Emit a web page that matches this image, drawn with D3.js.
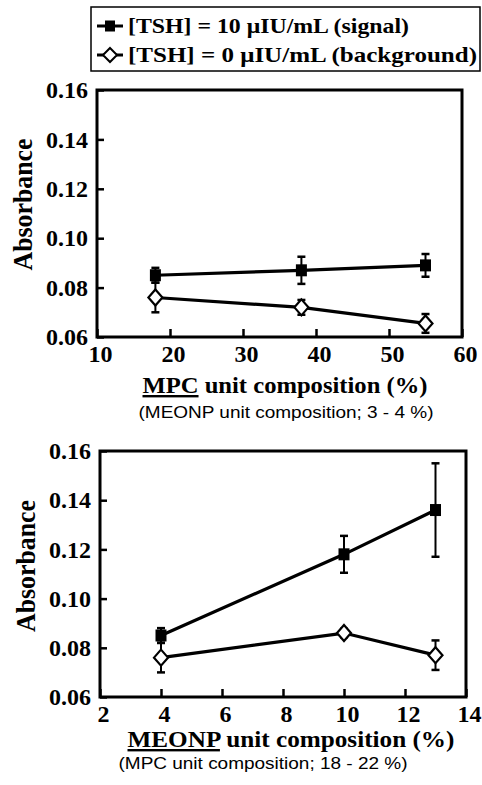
<!DOCTYPE html>
<html>
<head>
<meta charset="utf-8">
<script src="https://cdn.jsdelivr.net/npm/d3@7"></script>
<style>
  html, body { margin: 0; padding: 0; background: #fff; }
  svg { display: block; }
</style>
</head>
<body>
<div id="chart"></div>
<script>
// ---- data ----
const yTicks = [0.06, 0.08, 0.10, 0.12, 0.14, 0.16];

const mpcTicks = [10, 20, 30, 40, 50, 60];
const mpcX = [18, 38, 55];
const mpcSignal = [0.085, 0.087, 0.089];
const mpcSignalErr = [0.003, 0.0055, 0.0046];
const mpcBackground = [0.076, 0.072, 0.0655];
const mpcBackgroundErr = [0.006, 0.003, 0.0038];

const meonpTicks = [2, 4, 6, 8, 10, 12, 14];
const meonpX = [4, 10, 13];
const meonpSignal = [0.085, 0.118, 0.136];
const meonpSignalErr = [0.003, 0.0075, 0.019];
const meonpBackground = [0.076, 0.086, 0.077];
const meonpBackgroundErr = [0.006, 0.0017, 0.006];

const legendLabels = ['[TSH] = 10 \u03BCIU/mL (signal)', '[TSH] = 0 \u03BCIU/mL (background)'];

const SERIF = 'Liberation Serif';
const SANS = 'Liberation Sans';

const W = 482, H = 785;
const svg = d3.select('#chart').append('svg').attr('width', W).attr('height', H);

// ---- legend ----
const leg = svg.append('g');
leg.append('rect')
  .attr('x', 91).attr('y', 7).attr('width', 389).attr('height', 64)
  .attr('fill', 'none').attr('stroke', '#000').attr('stroke-width', 1.5);

legendLabels.forEach((lab, i) => {
  const cy = 26 + i * 29;
  leg.append('line')
    .attr('x1', 97).attr('x2', 123).attr('y1', cy).attr('y2', cy)
    .attr('stroke', '#000').attr('stroke-width', 3);
  if (i === 0) {
    leg.append('rect').attr('x', 105).attr('y', cy - 5.5).attr('width', 10).attr('height', 11).attr('fill', '#000');
  } else {
    leg.append('path')
      .attr('d', `M110,${cy - 7}L117,${cy}L110,${cy + 7}L103,${cy}Z`)
      .attr('fill', '#fff').attr('stroke', '#000').attr('stroke-width', 2);
  }
  leg.append('text')
    .attr('x', 128).attr('y', cy + 7)
    .attr('font-family', SERIF).attr('font-weight', 'bold').attr('font-size', 22)
    .attr('textLength', i === 0 ? 281 : 349).attr('lengthAdjust', 'spacingAndGlyphs')
    .text(lab);
});

// ---- panel drawing ----
function styleTicks(a) {
  a.attr('font-family', SERIF).attr('font-size', 24).attr('font-weight', 'bold');
  a.select('.domain').remove();
  a.selectAll('.tick line').attr('stroke', '#000').attr('stroke-width', 2.5);
  a.selectAll('.tick text').attr('fill', '#000');
}

function drawPanel(p) {
  const g = svg.append('g');
  const x = d3.scaleLinear().domain(d3.extent(p.ticks)).range([p.left, p.right]);
  const y = d3.scaleLinear().domain([0.06, 0.16]).range([p.bottom, p.top]);

  // axes with inward ticks
  g.append('g')
    .attr('transform', `translate(0,${p.bottom})`)
    .call(d3.axisBottom(x).tickValues(p.ticks).tickSizeInner(-8).tickSizeOuter(0).tickFormat(d3.format('d')))
    .call(styleTicks)
    .call(a => a.selectAll('.tick text').attr('y', 25).attr('dy', null).attr('dx', 3));

  g.append('g')
    .attr('transform', `translate(${p.left},0)`)
    .call(d3.axisLeft(y).tickValues(yTicks).tickSizeInner(-7).tickSizeOuter(0).tickPadding(9).tickFormat(d3.format('.2f')))
    .call(styleTicks);

  // frame
  g.append('rect')
    .attr('x', p.left).attr('y', p.top)
    .attr('width', p.right - p.left).attr('height', p.bottom - p.top)
    .attr('fill', 'none').attr('stroke', '#000').attr('stroke-width', 3);

  const series = [
    { vals: p.signal, err: p.signalErr, filled: true },
    { vals: p.background, err: p.backgroundErr, filled: false }
  ];

  const line = d3.line().x(d => x(d[0])).y(d => y(d[1]));

  series.forEach(s => {
    const pts = p.xs.map((xv, i) => [xv, s.vals[i], s.err[i]]);

    // error bars
    const eb = g.append('g').attr('stroke', '#000').attr('stroke-width', 2);
    pts.forEach(d => {
      const cx = x(d[0]);
      eb.append('line').attr('x1', cx).attr('x2', cx).attr('y1', y(d[1] - d[2])).attr('y2', y(d[1] + d[2]));
      eb.append('line').attr('x1', cx - 4).attr('x2', cx + 4).attr('y1', y(d[1] - d[2])).attr('y2', y(d[1] - d[2])).attr('stroke-width', 2.5);
      eb.append('line').attr('x1', cx - 4).attr('x2', cx + 4).attr('y1', y(d[1] + d[2])).attr('y2', y(d[1] + d[2])).attr('stroke-width', 2.5);
    });

    g.append('path').datum(pts)
      .attr('fill', 'none').attr('stroke', '#000').attr('stroke-width', 3.2)
      .attr('d', line);

    if (s.filled) {
      g.selectAll(null).data(pts).join('rect')
        .attr('x', d => x(d[0]) - 5.5).attr('y', d => y(d[1]) - 6)
        .attr('width', 11).attr('height', 12).attr('fill', '#000');
    } else {
      g.selectAll(null).data(pts).join('path')
        .attr('d', d => {
          const cx = x(d[0]), cy = y(d[1]);
          return `M${cx},${cy - 8}L${cx + 7},${cy}L${cx},${cy + 8}L${cx - 7},${cy}Z`;
        })
        .attr('fill', '#fff').attr('stroke', '#000').attr('stroke-width', 2.2);
    }
  });

  // y title
  g.append('text')
    .attr('transform', `translate(${p.yTitleX},${(p.top + p.bottom) / 2 + p.yTitleDy}) rotate(-90)`)
    .attr('text-anchor', 'middle')
    .attr('font-family', SERIF).attr('font-weight', 'bold').attr('font-size', 28)
    .attr('textLength', 132).attr('lengthAdjust', 'spacingAndGlyphs')
    .text('Absorbance');

  // x title with underlined monomer name
  const xt = g.append('text')
    .attr('x', p.xTitleX).attr('y', p.xTitleY)
    .attr('text-anchor', 'middle')
    .attr('font-family', SERIF).attr('font-weight', 'bold').attr('font-size', 24)
    .attr('textLength', p.xTitleLen).attr('lengthAdjust', 'spacingAndGlyphs');
  xt.append('tspan').attr('text-decoration', 'underline').text(p.name);
  xt.append('tspan').text(' unit composition (%)');

  g.append('text')
    .attr('x', p.subX).attr('y', p.subY)
    .attr('text-anchor', 'middle')
    .attr('font-family', SANS).attr('font-size', 16)
    .attr('textLength', p.subLen).attr('lengthAdjust', 'spacingAndGlyphs')
    .text(p.sub);
}

drawPanel({
  ticks: mpcTicks, xs: mpcX,
  signal: mpcSignal, signalErr: mpcSignalErr,
  background: mpcBackground, backgroundErr: mpcBackgroundErr,
  left: 97, right: 462, top: 90, bottom: 337,
  yTitleX: 32, yTitleDy: -9,
  name: 'MPC', xTitleX: 285, xTitleY: 393, xTitleLen: 285,
  sub: '(MEONP unit composition; 3 - 4 %)', subX: 286, subY: 418, subLen: 295
});

drawPanel({
  ticks: meonpTicks, xs: meonpX,
  signal: meonpSignal, signalErr: meonpSignalErr,
  background: meonpBackground, backgroundErr: meonpBackgroundErr,
  left: 100, right: 466, top: 451, bottom: 697,
  yTitleX: 35, yTitleDy: -8,
  name: 'MEONP', xTitleX: 291, xTitleY: 747, xTitleLen: 327,
  sub: '(MPC unit composition; 18 - 22 %)', subX: 263, subY: 769, subLen: 289
});
</script>
</body>
</html>
